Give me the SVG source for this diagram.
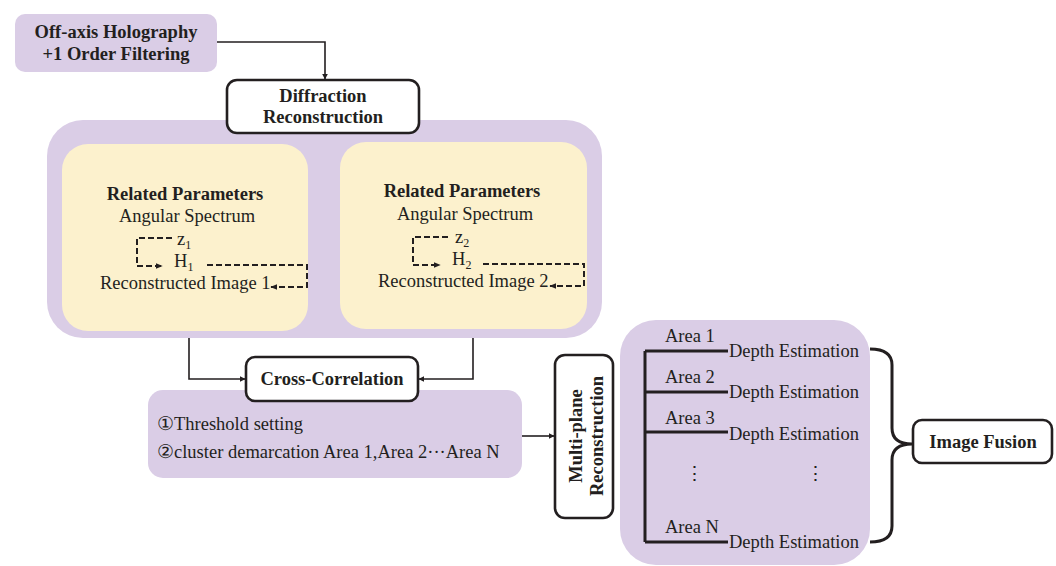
<svg xmlns="http://www.w3.org/2000/svg" width="1056" height="566" viewBox="0 0 1056 566" font-family="Liberation Serif, DejaVu Serif, serif">
  <defs>
    <marker id="arrow" viewBox="0 0 10 10" refX="9" refY="5" markerWidth="6" markerHeight="6" markerUnits="userSpaceOnUse" orient="auto">
      <path d="M0,0 L10,5 L0,10 Z" fill="#231f20"/>
    </marker>
    <marker id="arrowSmall" viewBox="0 0 10 10" refX="9" refY="5" markerWidth="7" markerHeight="7" markerUnits="userSpaceOnUse" orient="auto">
      <path d="M0,1 L10,5 L0,9 Z" fill="#231f20"/>
    </marker>
  </defs>
  <style>
    text { font-family: 'Liberation Serif', 'DejaVu Serif', serif; fill: #231f20; }
    .b { font-weight: bold; font-size: 18.5px; }
    .r { font-size: 18.5px; }
    .rp { font-weight: bold; font-size: 18.5px; }
    .sub { font-size: 12px; }
    .purple { fill: #dacde6; }
    .yellow { fill: #fcf1cd; }
    .box { fill: #ffffff; stroke: #231f20; stroke-width: 2.6; }
    .line { fill: none; stroke: #231f20; stroke-width: 1.6; }
    .dash { fill: none; stroke: #231f20; stroke-width: 2; stroke-dasharray: 6 3; }
    .thick { fill: none; stroke: #231f20; stroke-width: 3; }
  </style>

  <!-- input stage -->
  <g id="off-axis">
    <rect class="purple" x="15" y="14" width="202" height="58" rx="10"/>
    <text class="b" x="116" y="38" text-anchor="middle">Off-axis Holography</text>
    <text class="b" x="116" y="60" text-anchor="middle">+1 Order Filtering</text>
  </g>

  <!-- reconstruction container with two parameter panels -->
  <g id="recon-container">
    <rect class="purple" x="47" y="120" width="555" height="218" rx="36"/>
  </g>

  <g id="diffraction">
    <rect class="box" x="227" y="80" width="192" height="53" rx="10"/>
    <text class="b" x="323" y="102" text-anchor="middle">Diffraction</text>
    <text class="b" x="323" y="123" text-anchor="middle">Reconstruction</text>
  </g>

  <g id="params-1">
    <rect class="yellow" x="62" y="144" width="246" height="187" rx="26"/>
    <text class="rp" x="185" y="200" text-anchor="middle">Related Parameters</text>
    <text class="r" x="187" y="222" text-anchor="middle">Angular Spectrum</text>
    <text class="r" x="177" y="245">z<tspan class="sub" dy="4">1</tspan></text>
    <text class="r" x="174" y="267">H<tspan class="sub" dy="4">1</tspan></text>
    <text class="r" x="100" y="289">Reconstructed Image 1</text>
    <path class="dash" d="M172,238 H137 V266 H162" marker-end="url(#arrowSmall)"/>
    <path class="dash" d="M207,265 H307 V287 H271" marker-end="url(#arrowSmall)"/>
  </g>

  <g id="params-2">
    <rect class="yellow" x="340" y="142" width="247" height="187" rx="26"/>
    <text class="rp" x="462" y="197" text-anchor="middle">Related Parameters</text>
    <text class="r" x="465" y="220" text-anchor="middle">Angular Spectrum</text>
    <text class="r" x="455" y="243">z<tspan class="sub" dy="4">2</tspan></text>
    <text class="r" x="452" y="265">H<tspan class="sub" dy="4">2</tspan></text>
    <text class="r" x="378" y="287">Reconstructed Image 2</text>
    <path class="dash" d="M448,237 H413 V265 H440" marker-end="url(#arrowSmall)"/>
    <path class="dash" d="M483,264 H584 V286 H550" marker-end="url(#arrowSmall)"/>
  </g>

  <!-- clustering stage -->
  <g id="clustering">
    <rect class="purple" x="148" y="390" width="374" height="88" rx="15"/>
    <text class="r" x="157" y="430">①Threshold setting</text>
    <text class="r" x="157" y="458">②cluster demarcation Area 1,Area 2···Area N</text>
  </g>

  <g id="cross-correlation">
    <rect class="box" x="246" y="357" width="172" height="44" rx="9"/>
    <text class="b" x="332" y="385" text-anchor="middle">Cross-Correlation</text>
  </g>

  <g id="multi-plane">
    <rect class="box" x="555" y="355" width="58" height="163" rx="10"/>
    <text class="b" transform="translate(582,436) rotate(-90)" text-anchor="middle">Multi-plane</text>
    <text class="b" transform="translate(603,436) rotate(-90)" text-anchor="middle">Reconstruction</text>
  </g>

  <!-- per-area depth estimation -->
  <g id="areas">
    <rect class="purple" x="620" y="320" width="250" height="245" rx="36"/>
    <path class="thick" d="M645,351 V542 M645,351 H728 M645,392 H728 M645,432 H728 M645,542 H728"/>
    <text class="r" x="665" y="342">Area 1</text>
    <text class="r" x="729" y="357">Depth Estimation</text>
    <text class="r" x="665" y="383">Area 2</text>
    <text class="r" x="729" y="398">Depth Estimation</text>
    <text class="r" x="665" y="424">Area 3</text>
    <text class="r" x="729" y="440">Depth Estimation</text>
    <text class="r" x="694" y="480" text-anchor="middle">⋮</text>
    <text class="r" x="815" y="480" text-anchor="middle">⋮</text>
    <text class="r" x="665" y="533">Area N</text>
    <text class="r" x="729" y="548">Depth Estimation</text>
  </g>

  <g id="image-fusion">
    <rect class="box" x="913" y="420" width="139" height="43" rx="9"/>
    <text class="b" x="983" y="448" text-anchor="middle">Image Fusion</text>
  </g>

  <!-- connectors -->
  <g id="connectors">
    <path class="line" d="M217,42 H325 V79" marker-end="url(#arrow)"/>
    <path class="line" d="M189,338 V379 H245" marker-end="url(#arrow)"/>
    <path class="line" d="M473,338 V379 H419" marker-end="url(#arrow)"/>
    <path class="line" d="M522,436 H554" marker-end="url(#arrow)"/>
    <path class="thick" d="M870,349 Q892,349 892,365 V428 Q892,444 912,444 Q892,444 892,460 V526 Q892,542 870,542"/>
  </g>
</svg>
